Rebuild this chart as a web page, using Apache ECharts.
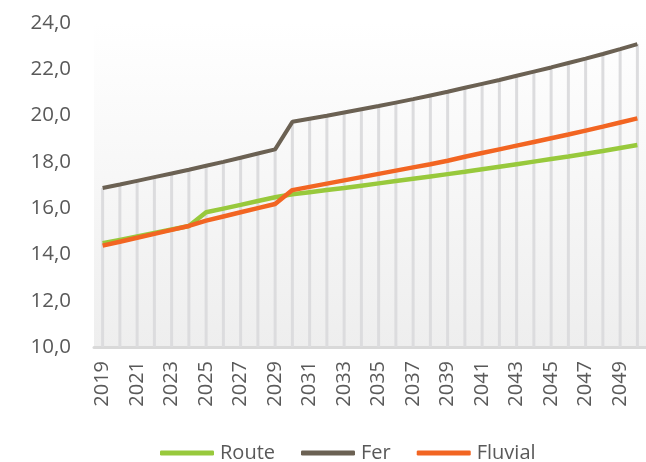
<!DOCTYPE html>
<html><head><meta charset="utf-8">
<script src="https://cdn.jsdelivr.net/npm/echarts@6/dist/echarts.min.js"></script>
<style>html,body{margin:0;padding:0;background:#fff}#c{width:646px;height:462px}</style>
</head><body><div id="c"></div>
<script>
const years = [];
for (let y = 2019; y <= 2050; y++) years.push(String(y));
const route = [14.48,14.63,14.78,14.93,15.08,15.23,15.82,15.98,16.14,16.31,16.47,
  16.60,16.69,16.78,16.87,16.97,17.07,17.17,17.27,17.37,17.47,
  17.57,17.68,17.79,17.90,18.01,18.12,18.23,18.35,18.47,18.60,18.73];
const fer = [16.87,17.02,17.18,17.34,17.50,17.66,17.83,18.00,18.18,18.36,18.54,
  19.73,19.86,19.99,20.13,20.27,20.41,20.56,20.71,20.87,21.03,
  21.20,21.37,21.54,21.72,21.90,22.08,22.27,22.46,22.66,22.87,23.09];
const fluvial = [14.38,14.55,14.72,14.89,15.06,15.23,15.46,15.64,15.82,16.00,16.18,
  16.78,16.92,17.06,17.20,17.34,17.48,17.62,17.76,17.90,18.05,
  18.22,18.38,18.54,18.70,18.86,19.02,19.18,19.35,19.52,19.70,19.88];
const yTicks = {min: 10, max: 24, interval: 2};

const font = 'Open Sans';
const chart = echarts.init(document.getElementById('c'));
chart.setOption({
  animation: false,
  textStyle: {fontFamily: font},
  grid: {left: 94, right: 0, top: 23, bottom: 115, show: true, borderWidth: 0,
    backgroundColor: new echarts.graphic.LinearGradient(0, 0, 0, 1, [
      {offset: 0, color: '#ffffff'}, {offset: 1, color: '#eeeeee'}])},
  legend: {
    data: ['Route', 'Fer', 'Fluvial'], left: 160, top: 443,
    icon: 'roundRect', itemWidth: 54, itemHeight: 5, itemGap: 26, padding: 0,
    textStyle: {fontFamily: font, fontSize: 20, color: '#595959', padding: [0, 0, 0, 1]}
  },
  xAxis: {
    type: 'category', data: years, boundaryGap: true,
    axisLine: {lineStyle: {color: '#d9d9d9', width: 3}},
    axisTick: {show: false},
    axisLabel: {interval: 1, rotate: 90, fontSize: 20, color: '#595959', margin: 14, fontFamily: font}
  },
  yAxis: {
    type: 'value', min: yTicks.min, max: yTicks.max, interval: yTicks.interval,
    splitLine: {show: false}, axisLine: {show: false}, axisTick: {show: false},
    axisLabel: {fontSize: 20.5, color: '#595959', margin: 23, fontFamily: font,
      formatter: v => v.toFixed(1).replace('.', ',')}
  },
  series: [
    {name: 'drop', type: 'bar', data: fer, barWidth: 3, silent: true,
      itemStyle: {color: '#dcdcde'}, z: 1},
    {name: 'Route', type: 'line', data: route, symbol: 'none', z: 3,
      lineStyle: {color: '#98c93c', width: 4.5}, itemStyle: {color: '#98c93c'}},
    {name: 'Fer', type: 'line', data: fer, symbol: 'none', z: 3,
      lineStyle: {color: '#6b6153', width: 4}, itemStyle: {color: '#6b6153'}},
    {name: 'Fluvial', type: 'line', data: fluvial, symbol: 'none', z: 4,
      lineStyle: {color: '#f26522', width: 4.5}, itemStyle: {color: '#f26522'}}
  ]
});
</script></body></html>
